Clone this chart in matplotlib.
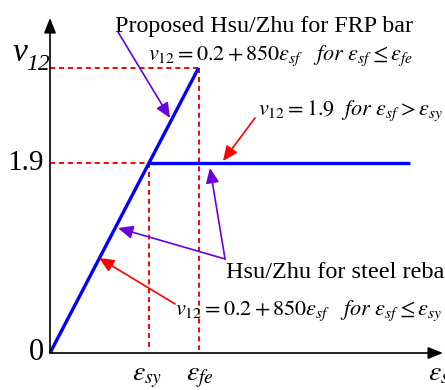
import matplotlib
matplotlib.use("Agg")
import matplotlib.pyplot as plt

plt.rcParams['font.family'] = ['Liberation Serif', 'DejaVu Serif']
plt.rcParams['mathtext.fontset'] = 'stix'

# schematic data (strain in units of eps_sy, v12 values)
frp_x = [0.0, 1.0, 1.5]
frp_y = [0.0, 1.9, 2.85]
steel_x = [1.0, 3.64]
steel_y = [1.9, 1.9]
eps_sy = 1.0
eps_fe = 1.5
v_yield = 1.9
v_top = 2.85
ytick_labels = ['0', '1.9']
xtick_labels = [r'$\varepsilon_{sy}$', r'$\varepsilon_{fe}$']

fig = plt.figure(figsize=(4.45, 3.90), dpi=100)
ax = fig.add_axes([0, 0, 1, 1])
ax.set_xlim(-50/99, 395/99)
ax.set_ylim(-37/100, 353/100)
ax.axis('off')

red = '#FF0000'
purple = '#6A00E0'
blue = '#0000FF'
dash = (0, (2.6, 2.0))

# dashed guides
ax.plot([0, eps_sy], [v_yield, v_yield], color=red, lw=1.4, ls=dash)
ax.plot([0, eps_fe], [v_top, v_top], color=red, lw=1.4, ls=dash)
ax.plot([eps_sy, eps_sy], [v_yield, 0.03], color=red, lw=1.4, ls=dash)
ax.plot([eps_fe, eps_fe], [v_top, 0.03], color=red, lw=1.4, ls=dash)

# axes with arrows
ax.annotate('', xy=(0, 3.35), xytext=(0, 0),
            arrowprops=dict(arrowstyle='-|>,head_length=0.9,head_width=0.36',
                            color='black', lw=1.2, shrinkA=0, shrinkB=0))
ax.annotate('', xy=(3.97, 0), xytext=(0, 0),
            arrowprops=dict(arrowstyle='-|>,head_length=0.9,head_width=0.36',
                            color='black', lw=1.2, shrinkA=0, shrinkB=0))

# curves
ax.plot(frp_x, frp_y, color=blue, lw=2.4, solid_capstyle='butt')
ax.plot(steel_x, steel_y, color=blue, lw=2.4, solid_capstyle='butt')

# axis labels / ticks
ax.text(-0.375, 3.0, 'v', fontsize=24, fontstyle='italic', ha='left', va='center')
ax.text(-0.245, 2.88, '12', fontsize=17, fontstyle='italic', ha='left', va='center')
ax.text(-0.06, 0.0, ytick_labels[0], fontsize=22, ha='right', va='center')
ax.text(-0.06, v_yield, ytick_labels[1], fontsize=21, ha='right', va='center')
ax.text(eps_sy - 0.02, -0.25, xtick_labels[0], fontsize=20, ha='center', va='center')
ax.text(eps_fe + 0.01, -0.25, xtick_labels[1], fontsize=20, ha='center', va='center')
ax.text(3.82, -0.25, r'$\varepsilon_{sf}$', fontsize=20, ha='left', va='center')

# annotations text
ax.text(0.657, 3.21, 'Proposed Hsu/Zhu for FRP bar', fontsize=17.3, ha='left', va='baseline')
ax.text(0.99, 2.93, r'$v_{12}=0.2+850\varepsilon_{sf}\ \ \ \mathit{for}\ \varepsilon_{sf}\leq\varepsilon_{fe}$',
        fontsize=16, ha='left', va='baseline')
ax.text(2.10, 2.38, r'$v_{12}=1.9\ \ \mathit{for}\ \varepsilon_{sf}>\varepsilon_{sy}$',
        fontsize=16, ha='left', va='baseline')
ax.text(1.78, 0.75, 'Hsu/Zhu for steel rebar', fontsize=17.5, ha='left', va='baseline')
ax.text(1.26, 0.38, r'$v_{12}=0.2+850\varepsilon_{sf}\ \ \ \mathit{for}\ \varepsilon_{sf}\leq\varepsilon_{sy}$',
        fontsize=16, ha='left', va='baseline')

# pointer arrows
def pointer(start, tip, color):
    ax.annotate('', xy=tip, xytext=start,
                arrowprops=dict(arrowstyle='-|>,head_length=0.9,head_width=0.4',
                                color=color, lw=1.2, shrinkA=0, shrinkB=0))

pointer((0.687, 3.21), (1.212, 2.35), purple)
pointer((2.07, 2.35), (1.747, 1.92), red)
pointer((1.768, 0.94), (0.687, 1.25), purple)
pointer((1.768, 0.94), (1.616, 1.85), purple)
pointer((1.263, 0.49), (0.495, 0.95), red)

fig.savefig('out.png', dpi=100)
